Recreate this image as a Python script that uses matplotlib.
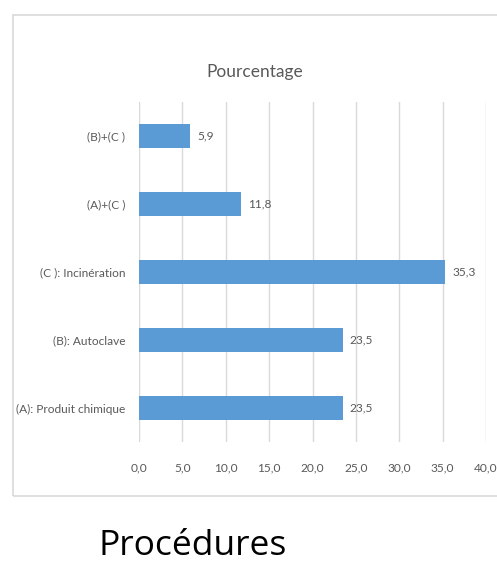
import matplotlib
matplotlib.use("Agg")
import matplotlib.pyplot as plt
from matplotlib.patches import Rectangle
from matplotlib.ticker import FuncFormatter

categories = ["(A): Produit chimique", "(B): Autoclave", "(C ): Incinération", "(A)+(C )", "(B)+(C )"]
values = [23.5, 23.5, 35.3, 11.8, 5.9]
xticks = [0, 5, 10, 15, 20, 25, 30, 35, 40]

narrow = ["Lato", "DejaVu Sans"]
gray = "#595959"
blue = "#5B9BD5"

W, H = 497, 562
fig = plt.figure(figsize=(W / 100, H / 100), dpi=100)
fig.patch.set_facecolor("white")

# chart border
fig.add_artist(Rectangle((13 / W, 1 - 496 / H), (W + 5 - 13) / W, (496 - 15) / H,
                         transform=fig.transFigure, fill=False, edgecolor="#d9d9d9", lw=1.2))

ax = fig.add_axes([139 / W, 1 - 442 / H, 347 / W, 340 / H])
y = range(len(categories))
ax.barh(y, values, height=0.36, color=blue, zorder=3)
ax.set_xlim(0, 40)
ax.set_ylim(-0.5, len(categories) - 0.5)
ax.set_xticks(xticks)
ax.xaxis.set_major_formatter(FuncFormatter(lambda v, p: f"{v:.1f}".replace(".", ",")))
ax.set_yticks(list(y))
ax.set_yticklabels(categories)
ax.grid(axis="x", color="#d9d9d9", lw=1, zorder=0)
for s in ax.spines.values():
    s.set_visible(False)
ax.tick_params(length=0, colors=gray, labelsize=8.6)
ax.tick_params(axis="x", pad=15)
ax.tick_params(axis="y", pad=10)
for lab in ax.get_xticklabels() + ax.get_yticklabels():
    lab.set_family(narrow)
for i, v in enumerate(values):
    ax.text(v + 0.8, i, f"{v:.1f}".replace(".", ","), va="center", ha="left",
            fontsize=8.6, color=gray, family=narrow)

fig.text(255 / W, 1 - 72 / H, "Pourcentage", ha="center", va="center",
         fontsize=12.5, color=gray, family=narrow)
fig.text(193 / W, 1 - 546 / H, "Procédures", ha="center", va="center",
         fontsize=25.5, color="black", family=["Open Sans", "DejaVu Sans"])

fig.savefig("out.png", dpi=100)
